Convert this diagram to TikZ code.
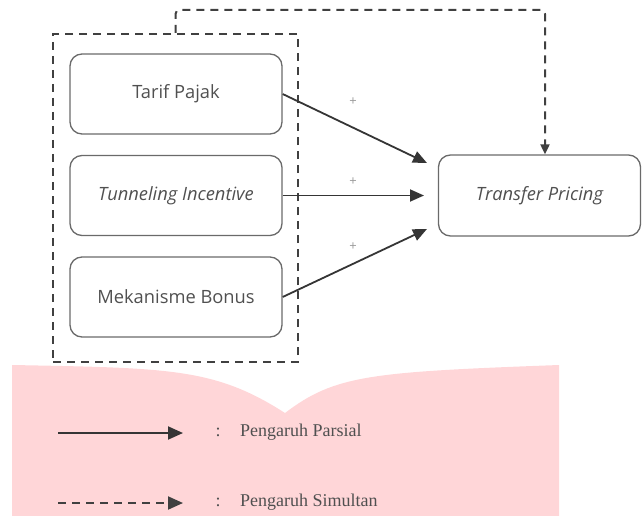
\documentclass[tikz,border=0pt]{standalone}
\usepackage{fontspec}
\setmainfont{Open Sans}
\newfontfamily\legfont{Liberation Serif}
\usetikzlibrary{arrows.meta}
\definecolor{boxline}{HTML}{6A6A6A}
\definecolor{boxtext}{HTML}{505050}
\definecolor{arrcol}{HTML}{353535}
\definecolor{dashcol}{HTML}{404040}
\definecolor{pinkbg}{RGB}{255,214,216}
\definecolor{plusc}{HTML}{9A9A9A}
\tikzset{
  varbox/.style={draw=boxline, line width=1.3pt, rounded corners=12pt,
    minimum width=212pt, minimum height=80pt, text=boxtext,
    font=\fontsize{18.3}{22}\selectfont, inner sep=0pt},
  grpbox/.style={draw=dashcol, line width=2pt, dash pattern=on 8pt off 6pt,
    minimum width=245pt, minimum height=328pt, inner sep=0pt},
  parr/.style={draw=arrcol, line width=1.8pt, -{Triangle[length=14pt,width=12pt]}},
  sarr/.style={draw=dashcol, line width=2pt, dash pattern=on 8pt off 6pt,
    rounded corners=4pt, -{Triangle[length=10pt,width=9pt]}},
  plusl/.style={text=plusc, font=\fontsize{13}{14}\selectfont, inner sep=0pt},
  legtext/.style={text=boxtext, font=\legfont\fontsize{18}{20}\selectfont, inner sep=0pt},
}
\begin{document}
\begin{tikzpicture}[x=1pt, y=-1pt]
\useasboundingbox (0,0) rectangle (642,516);
% pink background
\fill[pinkbg] (12,365) .. controls (170,368) and (215,368) .. (285,413)
  .. controls (335,375) and (370,372) .. (559,365) -- (559,516) -- (12,516) -- cycle;
% group
\node[grpbox] (grp) at (175.5,198) {};
% boxes
\node[varbox] (b1) at (176,94) {Tarif Pajak};
\node[varbox] (b2) at (176,195.5) {\itshape Tunneling Incentive};
\node[varbox] (b3) at (176,297) {Mekanisme Bonus};
\node[varbox, minimum width=202pt, minimum height=81pt] (tp) at (539.5,195.5) {\itshape Transfer Pricing};
% partial arrows
\coordinate (t1) at (427,163);
\coordinate (t2) at (424,195.5);
\coordinate (t3) at (427,229);
\draw[parr] (b1.east) -- (t1);
\draw[parr] (b2.east) -- (t2);
\draw[parr] (b3.east) -- (t3);
\node[plusl] (p1) at (353,102) {+};
\node[plusl] (p2) at (353,182) {+};
\node[plusl] (p3) at (353,247) {+};
% simultaneous arrow
\draw[sarr] (grp.north) -- ++(0,-23) -| ([xshift=5.5pt]tp.north);
% legend
\coordinate (l1a) at (58,433);
\coordinate (l1b) at (183,433);
\draw[parr, line width=1.9pt, -{Triangle[length=15pt,width=13pt]}] (l1a) -- (l1b);
\node[legtext] (c1) at (218,432) {:};
\node[legtext, anchor=west] (lt1) at (240,432) {Pengaruh Parsial};
\coordinate (l2a) at (58,503);
\coordinate (l2b) at (183,503);
\draw[draw=dashcol, line width=1.9pt, dash pattern=on 8pt off 6pt, -{Triangle[length=15pt,width=13pt]}] (l2a) -- (l2b);
\node[legtext] (c2) at (218,502) {:};
\node[legtext, anchor=west] (lt2) at (240,502) {Pengaruh Simultan};
\end{tikzpicture}
\end{document}
